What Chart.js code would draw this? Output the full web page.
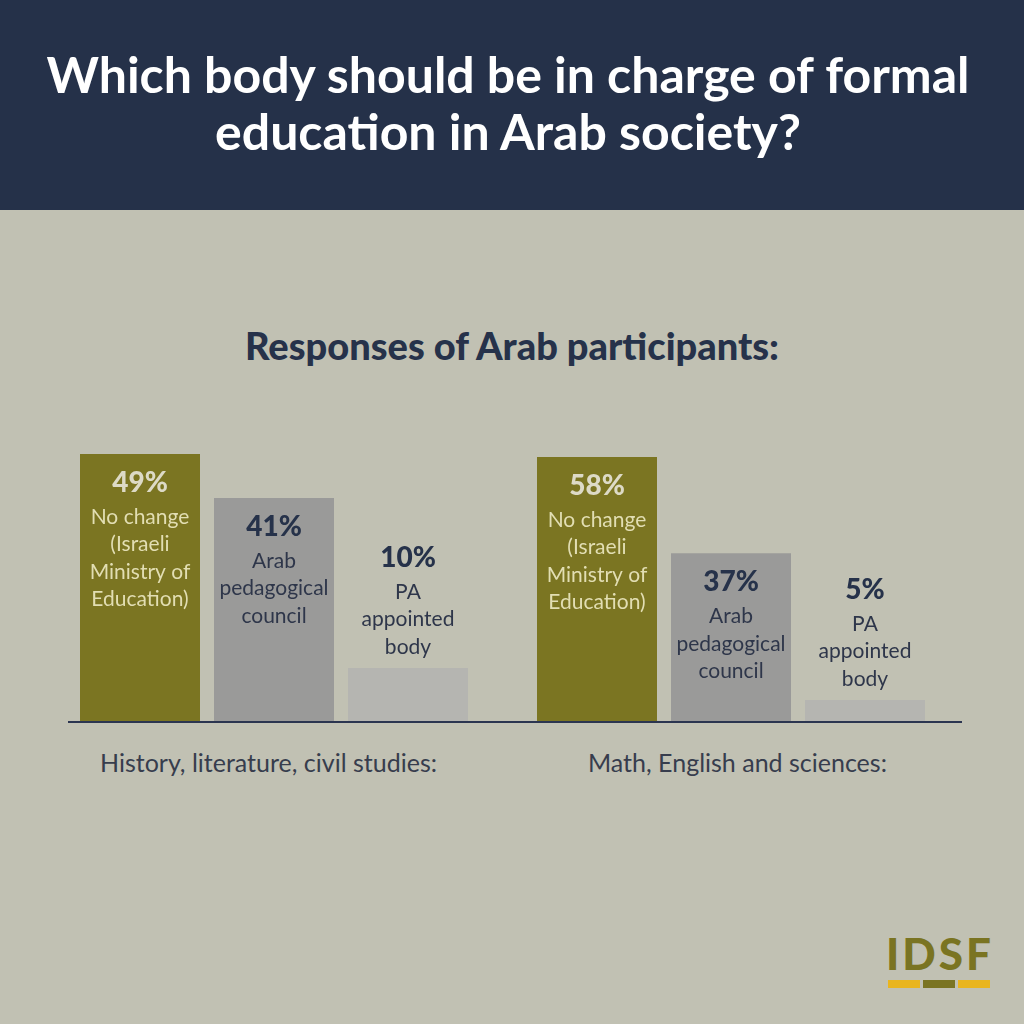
<!DOCTYPE html>
<html>
<head>
<meta charset="utf-8">
<script src="https://cdn.jsdelivr.net/npm/chart.js@4"></script>
<style>
  body { margin: 0; }
  #page { position: relative; width: 1024px; height: 1024px; background: #c1c1b3; overflow: hidden; font-family: Lato, "Noto Sans", sans-serif; }
  #header { position: absolute; left: 0; top: 0; width: 1024px; height: 210px; background: #253149; }
  #title { position: absolute; left: 0; top: 46px; width: 1016px; text-align: center; color: #fff; font-weight: 700; font-size: 50px; line-height: 57px; }
  #subtitle { position: absolute; left: 0; top: 323px; width: 1024px; text-align: center; color: #26324a; font-weight: 900; font-size: 38px; line-height: 44px; }
  canvas { position: absolute; top: 400px; }
  #baseline { position: absolute; left: 68px; top: 721px; width: 894px; height: 2px; background: #2b3550; }
  .group { position: absolute; top: 747px; color: #373d4d; font-size: 25px; line-height: 30px; }
  #logo { position: absolute; left: 886px; top: 930px; color: #7a7422; font-weight: 900; font-size: 44px; letter-spacing: 3px; line-height: 46px; }
  .bar { position: absolute; top: 980px; height: 8px; }
</style>
</head>
<body>
<div id="page">
  <div id="header"></div>
  <div id="title">Which body should be in charge of formal<br>education in Arab society?</div>
  <div id="subtitle">Responses of Arab participants:</div>
  <canvas id="grafico1" width="512" height="340" style="left:0"></canvas>
  <canvas id="grafico2" width="512" height="340" style="left:512px"></canvas>
  <div id="baseline"></div>
  <div class="group" id="grupo1" style="left:100px"></div>
  <div class="group" id="grupo2" style="left:588px"></div>
  <div id="logo">IDSF</div>
  <div class="bar" style="left:888px;width:32px;background:#e9b51f"></div>
  <div class="bar" style="left:923px;width:32px;background:#7a7422"></div>
  <div class="bar" style="left:958px;width:32px;background:#e9b51f"></div>
</div>
<script>
// dados
const grupos = ['History, literature, civil studies:', 'Math, English and sciences:']
const respostas = [
    ['No change', '(Israeli', 'Ministry of', 'Education)'],
    ['Arab', 'pedagogical', 'council'],
    ['PA', 'appointed', 'body']
]
const historia = [49, 41, 10]
const matematica = [58, 37, 5]

// estilos
const coresBarras = ['#7b7522', '#9a9a99', '#b5b5b1']
const corTextoPct = ['#dddac6', '#26324a', '#26324a']
const corTextoLabel = ['#e2deb3', '#2e364a', '#2e364a']

grupo1.innerHTML = grupos[0]
grupo2.innerHTML = grupos[1]

const textoBarras = {
    id: 'textoBarras',
    afterDatasetsDraw(chart) {
        const ctx = chart.ctx
        const valores = chart.data.datasets[0].data
        chart.getDatasetMeta(0).data.forEach((bar, i) => {
            const linhas = chart.data.labels[i]
            const altura = bar.base - bar.y
            let pctY, primeiraY
            if (altura > 150) {
                pctY = bar.y + 29
                primeiraY = pctY + 34
            } else {
                const ultimaY = bar.y - 21
                primeiraY = ultimaY - 27.5 * (linhas.length - 1)
                pctY = primeiraY - 34
            }
            ctx.save()
            ctx.textAlign = 'center'
            ctx.textBaseline = 'middle'
            ctx.fillStyle = corTextoPct[i]
            ctx.font = '900 28px Lato'
            ctx.fillText(`${valores[i]}%`, bar.x, pctY)
            ctx.fillStyle = corTextoLabel[i]
            ctx.font = '400 21px Lato'
            linhas.forEach((l, j) => ctx.fillText(l, bar.x, primeiraY + j * 27.5))
            ctx.restore()
        })
    }
}

function criarGrafico(id, valores, padding) {
    const ctx = document.getElementById(id).getContext('2d')
    return new Chart(ctx, {
        type: 'bar',
        data: {
            labels: respostas,
            datasets: [{
                data: valores,
                backgroundColor: coresBarras,
                borderWidth: 0,
                barPercentage: 120 / 134,
                categoryPercentage: 1
            }]
        },
        options: {
            responsive: false,
            animation: false,
            layout: { padding: padding },
            plugins: { legend: { display: false }, tooltip: { enabled: false } },
            scales: {
                x: { display: false },
                y: { display: false, min: 0, max: Math.max(...valores) }
            }
        },
        plugins: [textoBarras]
    })
}

criarGrafico('grafico1', historia, { left: 73, right: 37, top: 54, bottom: 17 })
criarGrafico('grafico2', matematica, { left: 18, right: 92, top: 57, bottom: 17 })
</script>
</body>
</html>
